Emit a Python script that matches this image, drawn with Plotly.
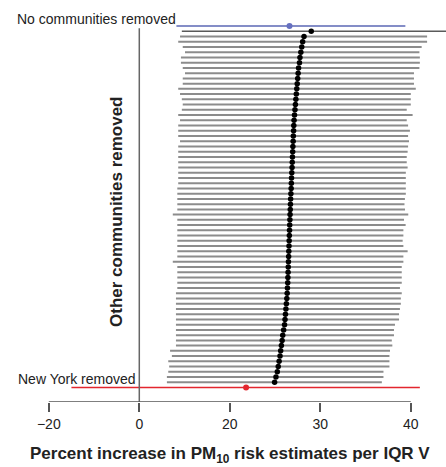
import plotly.graph_objects as go

# Estimates and 95% CI ends, in x-axis units
all_est, all_lo, all_hi = 26.6, 14.1, 39.4
ny_est, ny_lo, ny_hi = 21.8, 2.5, 41.0

other_est = [
    29.0, 28.2, 28.05, 27.95, 27.85, 27.75, 27.7, 27.6, 27.55, 27.5,
    27.45, 27.4, 27.35, 27.3, 27.25, 27.2, 27.15, 27.1, 27.07, 27.05,
    27.02, 27.0, 26.97, 26.95, 26.92, 26.9, 26.88, 26.85, 26.82, 26.8,
    26.78, 26.75, 26.72, 26.7, 26.68, 26.66, 26.64, 26.62, 26.6, 26.58,
    26.56, 26.54, 26.52, 26.5, 26.48, 26.46, 26.44, 26.42, 26.4, 26.37,
    26.34, 26.3, 26.25, 26.2, 26.15, 26.1, 26.05, 25.95, 25.85, 25.78,
    25.7, 25.62, 25.55, 25.45, 25.35, 25.25, 25.1, 24.95,
]
other_lo = [
    14.7, 14.5, 14.3, 14.8, 15.05, 14.6, 14.6, 14.8, 15.05, 14.8,
    14.8, 14.3, 14.5, 14.7, 14.8, 14.7, 14.3, 14.5, 14.3, 14.3,
    14.3, 14.5, 14.3, 14.3, 14.3, 14.3, 14.3, 14.3, 14.3, 14.3,
    14.2, 14.2, 14.2, 14.2, 14.2, 13.7, 14.2, 14.2, 14.2, 14.2,
    14.2, 14.2, 14.2, 14.2, 13.7, 14.2, 14.2, 14.2, 14.2, 14.2,
    14.05, 14.05, 14.05, 14.05, 14.05, 14.05, 14.05, 14.05, 14.05, 14.05,
    14.05, 13.4, 13.6, 13.2, 13.3, 13.2, 13.05, 13.05,
]
other_hi = [
    46.0, 41.8, 41.8, 41.2, 40.95, 41.0, 41.0, 40.95, 40.35, 40.35,
    40.35, 40.55, 40.0, 40.0, 40.0, 39.55, 40.2, 39.55, 39.7, 39.9,
    39.7, 39.8, 39.7, 39.65, 39.55, 39.55, 39.65, 39.45, 39.45, 39.45,
    39.45, 39.45, 39.35, 39.3, 39.36, 39.72, 39.25, 39.43, 39.18, 39.18,
    39.1, 39.18, 39.65, 39.18, 39.18, 39.0, 39.0, 39.0, 39.0, 38.8,
    39.0, 38.9, 38.9, 38.8, 38.7, 38.7, 38.25, 38.14, 38.14, 37.9,
    37.96, 37.7, 37.64, 37.64, 37.64, 36.98, 36.98, 36.8,
]

tick_vals = [0, 10, 20, 30, 40]
tick_text = ["\u221220", "0", "20", "30", "40"]
null_value = 10  # position of the "0" tick

W, H = 446, 467
MB = 65
PLOT_H = H - MB
n_rows = len(other_est) + 2
row_top, row_bot = -4.96, 71.76

FONT = "Liberation Sans, Arial, sans-serif"


def px_x(px):
    return px / W


def px_y(py):
    return 1 - py / PLOT_H


fig = go.Figure()

# removed-community intervals
xs, ys = [], []
for i, (lo, hi) in enumerate(zip(other_lo, other_hi)):
    if i == 0:
        continue
    xs += [lo, hi, None]
    ys += [i + 1, i + 1, None]
fig.add_trace(go.Scatter(x=xs, y=ys, mode="lines",
                         line=dict(color="#8c8c8c", width=2), hoverinfo="skip"))
fig.add_trace(go.Scatter(x=[other_lo[0], other_hi[0]], y=[1, 1], mode="lines",
                         line=dict(color="#5a5a5a", width=1.6), hoverinfo="skip"))

# all communities
fig.add_trace(go.Scatter(x=[all_lo, all_hi], y=[0, 0], mode="lines",
                         line=dict(color="#5b67b5", width=1.5), hoverinfo="skip"))
fig.add_trace(go.Scatter(x=[all_est], y=[0], mode="markers",
                         marker=dict(color="#6670c0", size=6)))

# New York removed
fig.add_trace(go.Scatter(x=[ny_lo, ny_hi], y=[n_rows - 1] * 2, mode="lines",
                         line=dict(color="#e3262e", width=1.5), hoverinfo="skip"))
fig.add_trace(go.Scatter(x=[ny_est], y=[n_rows - 1], mode="markers",
                         marker=dict(color="#e3262e", size=6)))

# point estimates
fig.add_trace(go.Scatter(x=other_est, y=list(range(1, len(other_est) + 1)),
                         mode="markers", marker=dict(color="#000000", size=5.5)))

# vertical reference line and bottom axis line
fig.add_shape(type="line", xref="x", yref="y", x0=null_value, x1=null_value,
              y0=0.45, y1=row_bot, line=dict(color="#666666", width=1.5))
fig.add_shape(type="line", xref="x", yref="y", x0=tick_vals[0], x1=tick_vals[-1],
              y0=row_bot, y1=row_bot, line=dict(color="#555555", width=1.5))

fig.update_xaxes(range=[-48.8 / 9.05, (W - 48.8) / 9.05], showgrid=False,
                 zeroline=False, showline=False, ticks="outside", ticklen=9,
                 tickwidth=1.5, tickcolor="#555555", tickvals=tick_vals,
                 ticktext=tick_text,
                 tickfont=dict(family=FONT, size=14, color="#222222"))
fig.update_yaxes(range=[row_bot, row_top], visible=False)

ann_font = dict(family=FONT, size=14, color="#222222")
fig.add_annotation(text="No communities removed", xref="paper", yref="paper",
                   x=px_x(178), y=px_y(19), xanchor="right", yanchor="middle",
                   showarrow=False, font=ann_font)
fig.add_annotation(text="New York removed", xref="paper", yref="paper",
                   x=px_x(16), y=px_y(378.5), xanchor="left", yanchor="middle",
                   showarrow=False, font=ann_font)
fig.add_annotation(text="<b>Other communities removed</b>", xref="paper", yref="paper",
                   x=px_x(116), y=px_y(211), xanchor="center", yanchor="middle",
                   textangle=-90, showarrow=False,
                   font=dict(family=FONT, size=17, color="#222222"))
fig.add_annotation(text="<b>Percent increase in PM<sub>10</sub> risk estimates per IQR V</b>",
                   xref="paper", yref="paper", x=px_x(229.5), y=px_y(455),
                   xanchor="center", yanchor="middle", showarrow=False,
                   font=dict(family=FONT, size=17, color="#222222"))

fig.update_layout(width=W, height=H, margin=dict(l=0, r=0, t=0, b=MB),
                  paper_bgcolor="white", plot_bgcolor="white", showlegend=False)

fig.write_html("out.html")
